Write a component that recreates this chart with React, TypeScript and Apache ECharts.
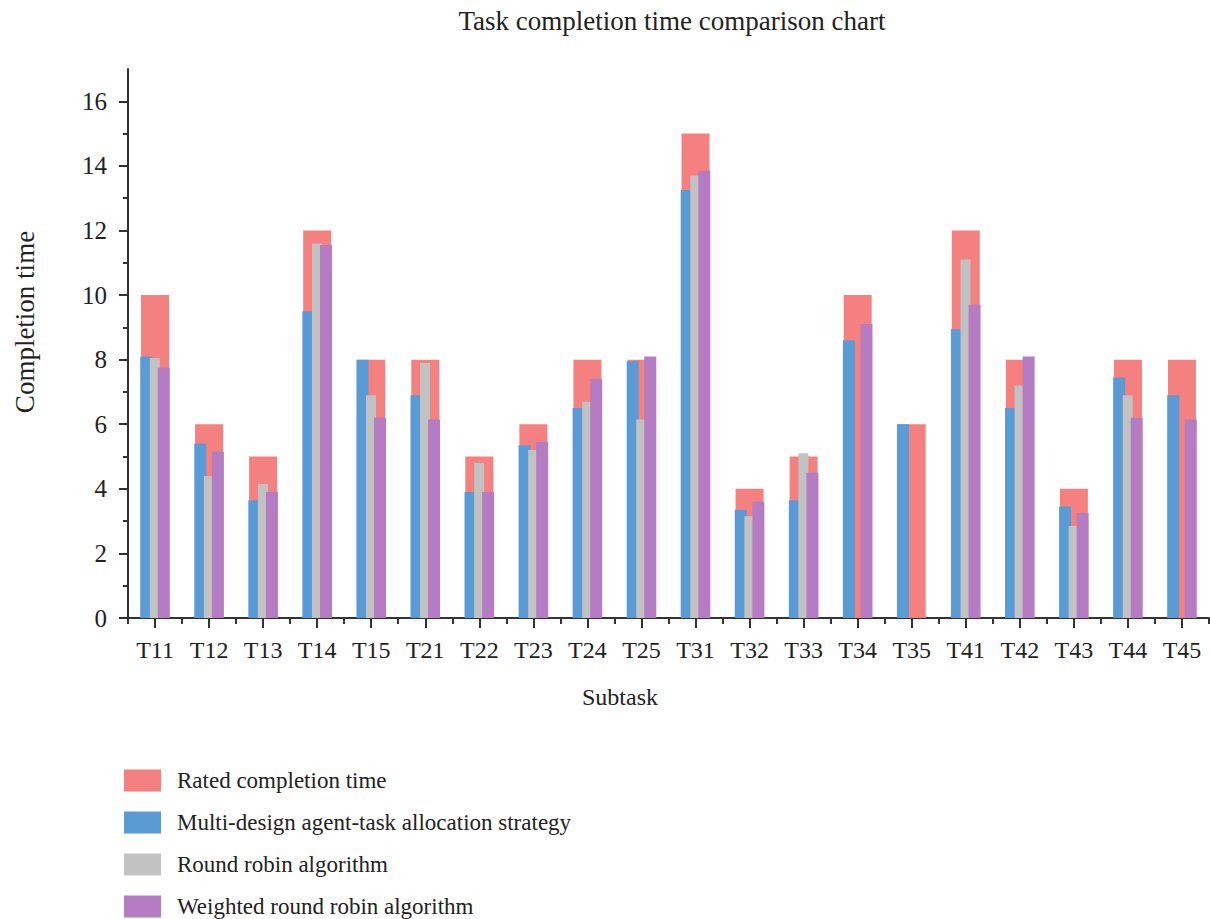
import React, { useEffect, useRef } from 'react';
import * as echarts from 'echarts';

const categories = ['T11', 'T12', 'T13', 'T14', 'T15', 'T21', 'T22', 'T23', 'T24', 'T25', 'T31', 'T32', 'T33', 'T34', 'T35', 'T41', 'T42', 'T43', 'T44', 'T45'];
const ratedTime = [10, 6, 5, 12, 8, 8, 5, 6, 8, 8, 15, 4, 5, 10, 6, 12, 8, 4, 8, 8];
const multiDesign = [8.1, 5.4, 3.65, 9.5, 8.0, 6.9, 3.9, 5.35, 6.5, 7.95, 13.25, 3.35, 3.65, 8.6, 6.0, 8.95, 6.5, 3.45, 7.45, 6.9];
const roundRobin = [8.05, 4.4, 4.15, 11.6, 6.9, 7.9, 4.8, 5.2, 6.7, 6.15, 13.7, 3.15, 5.1, 0, 0, 11.1, 7.2, 2.85, 6.9, 0];
const weightedRoundRobin = [7.75, 5.15, 3.9, 11.55, 6.2, 6.15, 3.9, 5.45, 7.4, 8.1, 13.85, 3.6, 4.5, 9.1, 0, 9.7, 8.1, 3.25, 6.2, 6.15];
const yMajorTicks = [0, 2, 4, 6, 8, 10, 12, 14, 16];
const yMinorTicks = [1, 3, 5, 7, 9, 11, 13, 15];
const seriesNames = [
  'Rated completion time',
  'Multi-design agent-task allocation strategy',
  'Round robin algorithm',
  'Weighted round robin algorithm',
];

const FONT = '"Liberation Serif", "Times New Roman", serif';
const AXIS = '#333333';
const TEXT = '#222222';
const RED = '#F4817F';
const BLUE = '#5B9BD5';
const GRAY = '#C2C2C2';
const PURPLE = '#B57CC4';

export default function App() {
  const ref = useRef<HTMLDivElement>(null);
  useEffect(() => {
    if (!ref.current) return;
    const chart = echarts.init(ref.current, null, { renderer: 'svg' });
    chart.setOption({
      animation: false,
      backgroundColor: '#ffffff',
      textStyle: { fontFamily: FONT },
      title: {
        text: 'Task completion time comparison chart',
        left: 667,
        top: 2,
        textAlign: 'center',
        textStyle: { fontFamily: FONT, fontSize: 27, fontWeight: 'normal', color: TEXT },
      },
      legend: {
        orient: 'vertical',
        left: 124,
        top: 769,
        padding: 0,
        itemWidth: 37,
        itemHeight: 22,
        itemGap: 19,
        icon: 'rect',
        textStyle: { fontFamily: FONT, fontSize: 23, color: TEXT, padding: [0, 0, 0, 11] },
        data: seriesNames,
      },
      graphic: [
        {
          type: 'text',
          x: 25,
          y: 322,
          rotation: Math.PI / 2,
          style: {
            text: 'Completion time',
            align: 'center',
            verticalAlign: 'middle',
            fontFamily: FONT,
            fontSize: 27,
            fill: TEXT,
          },
        },
        {
          type: 'text',
          x: 620,
          y: 697,
          style: {
            text: 'Subtask',
            align: 'center',
            verticalAlign: 'middle',
            fontFamily: FONT,
            fontSize: 24,
            fill: TEXT,
          },
        },
      ],
      grid: { left: 128, right: 1, top: 69, bottom: 301, containLabel: false },
      xAxis: [
        {
          type: 'category',
          data: categories,
          position: 'bottom',
          axisLine: { show: true, lineStyle: { color: AXIS, width: 2 } },
          axisTick: { show: true, alignWithLabel: true, length: 10, lineStyle: { color: AXIS, width: 2 } },
          axisLabel: { interval: 0, margin: 20, fontSize: 24, color: TEXT, fontFamily: FONT },
          splitLine: { show: false },
        },
        {
          type: 'category',
          data: categories,
          position: 'bottom',
          axisLine: { show: false },
          axisTick: { show: true, length: 6, lineStyle: { color: AXIS, width: 2 } },
          axisLabel: { show: false },
          splitLine: { show: false },
        },
      ],
      yAxis: [
        {
          type: 'value',
          min: 0,
          max: 17,
          position: 'left',
          axisLine: { show: true, lineStyle: { color: AXIS, width: 2 } },
          axisTick: { show: true, length: 9, customValues: yMajorTicks, lineStyle: { color: AXIS, width: 2 } },
          axisLabel: { customValues: yMajorTicks, margin: 21, fontSize: 25, color: TEXT, fontFamily: FONT },
          splitLine: { show: false },
        },
        {
          type: 'value',
          min: 0,
          max: 17,
          position: 'left',
          axisLine: { show: false },
          axisTick: { show: true, length: 5, customValues: yMinorTicks, lineStyle: { color: AXIS, width: 2 } },
          axisLabel: { show: false },
          splitLine: { show: false },
        },
      ],
      series: [
        {
          name: seriesNames[0],
          type: 'bar',
          xAxisIndex: 0,
          yAxisIndex: 0,
          data: ratedTime,
          barWidth: 28,
          itemStyle: { color: RED },
        },
        {
          name: seriesNames[1],
          type: 'bar',
          xAxisIndex: 1,
          yAxisIndex: 0,
          data: multiDesign,
          barWidth: 12,
          barGap: '-20%',
          itemStyle: { color: BLUE },
        },
        {
          name: seriesNames[2],
          type: 'bar',
          xAxisIndex: 1,
          yAxisIndex: 0,
          data: roundRobin,
          barWidth: 10,
          barGap: '-20%',
          itemStyle: { color: GRAY },
        },
        {
          name: seriesNames[3],
          type: 'bar',
          xAxisIndex: 1,
          yAxisIndex: 0,
          data: weightedRoundRobin,
          barWidth: 12,
          barGap: '-20%',
          itemStyle: { color: PURPLE },
        },
      ],
    });
    return () => chart.dispose();
  }, []);
  return (
    <div
      ref={ref}
      style={{ position: 'absolute', left: 0, top: 0, width: 1210, height: 919, background: '#fff' }}
    />
  );
}
